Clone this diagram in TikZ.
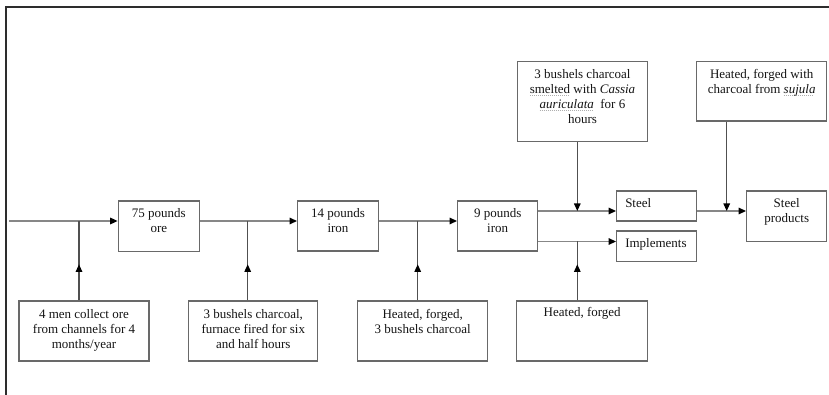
\documentclass[tikz,border=0pt]{standalone}
\usepackage{fontspec}
\setmainfont{Liberation Serif}
\usetikzlibrary{arrows.meta,decorations.markings}
\definecolor{boxc}{RGB}{105,105,105}
\definecolor{hlinec}{RGB}{135,135,135}
\definecolor{vlinec}{RGB}{80,80,80}
\definecolor{framec}{RGB}{45,45,45}
\definecolor{textc}{RGB}{20,20,20}
\definecolor{squigc}{RGB}{175,175,175}
\newsavebox\sqbox
\newcommand\squig[1]{\sbox\sqbox{#1}\leavevmode\rlap{\textcolor{squigc}{\leaders\hbox to 2pt{\rule[-2.6pt]{1.1pt}{0.8pt}\hss}\hskip\wd\sqbox}}\usebox\sqbox}
\tikzset{
  box/.style={draw=boxc, line width=1.3pt, inner sep=0pt, fill=none},
  txt/.style={font=\fontsize{13}{15}\selectfont, align=center, inner sep=0pt, text=textc, anchor=north},
  hconn/.style={draw=hlinec, line width=1.5pt, -{Triangle[length=7.5pt,width=6.5pt,black]}},
  vconnin/.style={draw=vlinec, line width=1.2pt, -{Triangle[length=7.5pt,width=6.5pt,black]}},
  vconnmid/.style={draw=vlinec, line width=1.2pt, postaction={decorate},
    decoration={markings, mark=at position 36pt with {\arrow{Triangle[length=7.5pt,width=6.5pt,black]}}}}
}
\begin{document}
\begin{tikzpicture}[x=1pt,y=-1pt]
\useasboundingbox (0,0) rectangle (829,395);
% frame
\draw[framec, line width=1.9pt] (829,6.7) -- (5.7,6.7) -- (5.7,395);

% main flow boxes
\node[box, minimum width=81pt, minimum height=50.7pt] (ore) at (158.8,226.3) {};
\node[box, minimum width=80.6pt, minimum height=50pt] (iron14) at (338,226) {};
\node[box, minimum width=80pt, minimum height=50pt] (iron9) at (497.7,226) {};
\node[box, minimum width=80pt, minimum height=30pt] (steel) at (656.7,206) {};
\node[box, minimum width=80pt, minimum height=30.7pt] (impl) at (656.7,246.3) {};
\node[box, minimum width=80pt, minimum height=50.7pt] (prod) at (786.7,216.3) {};

% input boxes
\node[box, minimum width=130pt, minimum height=60pt] (b1) at (84,331) {};
\node[box, minimum width=129pt, minimum height=60pt] (b2) at (253.3,331) {};
\node[box, minimum width=130pt, minimum height=60pt] (b3) at (422.7,331) {};
\node[box, minimum width=131pt, minimum height=60pt] (b4) at (582.2,331) {};
\node[box, minimum width=130.4pt, minimum height=80pt] (t1) at (582.5,101.7) {};
\node[box, minimum width=130pt, minimum height=59.3pt] (t2) at (761.7,91.35) {};

% texts
\node[txt] (ore-t) at ([yshift=-6.8pt]ore.north) {\strut 75 pounds\\ore};
\node[txt] (iron14-t) at ([yshift=-6.8pt]iron14.north) {\strut 14 pounds\\iron};
\node[txt] (iron9-t) at ([yshift=-6.8pt]iron9.north) {\strut 9 pounds\\iron};
\node[txt, anchor=north west] (steel-t) at ([xshift=9pt,yshift=-6.5pt]steel.north west) {\strut Steel};
\node[txt, anchor=north west] (impl-t) at ([xshift=9pt,yshift=-6.5pt]impl.north west) {\strut Implements};
\node[txt] (prod-t) at ([yshift=-6.3pt]prod.north) {\strut Steel\\products};
\node[txt] (b1-t) at ([yshift=-7pt]b1.north) {\strut 4 men collect ore\\from channels for 4\\months/year};
\node[txt] (b2-t) at ([yshift=-7pt]b2.north) {\strut 3 bushels charcoal,\\furnace fired for six\\and half hours};
\node[txt] (b3-t) at ([yshift=-7pt]b3.north) {\strut Heated, forged,\\3 bushels charcoal};
\node[txt] (b4-t) at ([yshift=-5.5pt]b4.north) {\strut Heated, forged};
\node[txt] (t1-t) at ([yshift=-6.3pt]t1.north) {\strut 3 bushels charcoal\\\squig{smelted} with \textit{Cassia}\\\textit{\squig{auriculata}}\ \ for 6\\hours};
\node[txt] (t2-t) at ([yshift=-6.3pt]t2.north) {\strut Heated, forged with\\charcoal from \textit{\squig{sujula}}};

% junction coordinates
\coordinate (s0) at (9,221);
\coordinate (j1) at (79,221);
\coordinate (j2) at (247.7,221);
\coordinate (j3) at (417.7,221);
\coordinate (js) at (577.3,211);
\coordinate (ji) at (577.3,241.5);
\coordinate (jp) at (726.7,211);

% main line
\draw[hconn] (s0) -- (ore.west |- s0);
\draw[hconn] (ore.east |- j2) -- (iron14.west |- j2);
\draw[hconn] (iron14.east |- j3) -- (iron9.west |- j3);
\draw[hconn] (iron9.east |- js) -- (steel.west |- js);
\draw[hconn] (iron9.east |- ji) -- (impl.west |- ji);
\draw[hconn] (steel.east |- jp) -- (prod.west |- jp);

% inputs from below
\draw[vconnmid] (j1 |- b1.north) -- (j1);
\draw[vconnmid] (j2 |- b2.north) -- (j2);
\draw[vconnmid] (j3 |- b3.north) -- (j3);
\draw[vconnmid] (ji |- b4.north) -- (ji);

% inputs from above
\draw[vconnin] (js |- t1.south) -- (js);
\draw[vconnin] (jp |- t2.south) -- (jp);
\end{tikzpicture}
\end{document}
